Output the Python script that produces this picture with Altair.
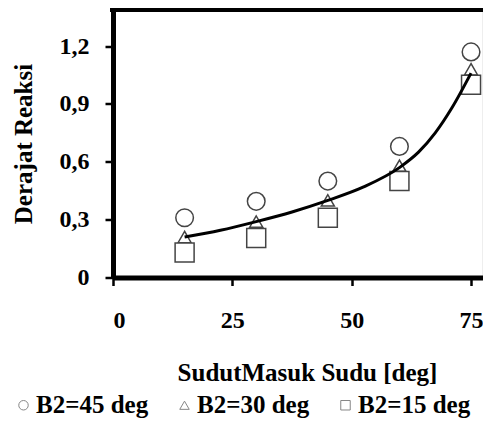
import altair as alt
import pandas as pd

# Data
x_vals = [15, 30, 45, 60, 75]
b2_45 = [0.31, 0.395, 0.50, 0.68, 1.17]
b2_30 = [0.21, 0.29, 0.40, 0.58, 1.08]
b2_15 = [0.13, 0.205, 0.31, 0.50, 1.00]
series_names = ["B2=45 deg", "B2=30 deg", "B2=15 deg"]
series_shapes = ["circle", "triangle-up", "square"]
series_sizes = [310, 170, 361]

trend_x = [15, 22.5, 30, 37.5, 45, 52.5, 60, 64, 67.5, 71, 75]
trend_y = [0.21, 0.245, 0.29, 0.34, 0.40, 0.47, 0.57, 0.65, 0.75, 0.88, 1.06]

x_ticks = [0, 25, 50, 75]
y_ticks = [0, 0.3, 0.6, 0.9, 1.2]

rows = []
for i, vals in enumerate([b2_45, b2_30, b2_15]):
    for xv, yv in zip(x_vals, vals):
        rows.append({"x": xv, "y": yv, "series": series_names[i],
                     "sz": series_sizes[i], "ord": i})
pts = pd.DataFrame(rows)
trend = pd.DataFrame({"x": trend_x, "y": trend_y})

FONT = "Liberation Serif"
W = 369.5
H = 268

xs = alt.Scale(domain=[0, 77.4], nice=False, zero=False)
ys = alt.Scale(domain=[0, 1.39], nice=False)
shape_scale = alt.Scale(domain=series_names, range=series_shapes)

x_axis = alt.Axis(
    values=x_ticks, title="SudutMasuk Sudu [deg]", grid=False,
    domainWidth=5, domainColor="black", tickColor="black", tickWidth=2.5, tickSize=8,
    labelFont=FONT, labelFontWeight="bold", labelFontSize=24, labelColor="black",
    labelPadding=23, labelBaseline="top",
    titleFont=FONT, titleFontWeight="bold", titleFontSize=25, titleColor="black",
    titleX=194, titleY=102.5, titleBaseline="alphabetic", titleAlign="center",
)
y_axis = alt.Axis(
    values=y_ticks, title="Derajat Reaksi", grid=False,
    domainWidth=5, domainColor="black", tickColor="black", tickWidth=2.5, tickSize=8,
    labelFont=FONT, labelFontWeight="bold", labelFontSize=24, labelColor="black",
    labelPadding=16,
    labelExpr="datum.value == 0 ? '0' : replace(format(datum.value, '.1f'), '.', ',')",
    titleFont=FONT, titleFontWeight="bold", titleFontSize=25, titleColor="black",
    titleX=-90, titleY=134, titleBaseline="middle", titleAlign="center", titleAngle=270,
)

legend = alt.Legend(
    orient="none", legendX=-102, legendY=383, direction="horizontal", title=None,
    labelFont=FONT, labelFontWeight="bold", labelFontSize=25, labelColor="black",
    symbolSize=90, symbolStrokeColor="#555", symbolStrokeWidth=1,
    columnPadding=23, labelOffset=0,
)

# small outline markers that carry the legend (hidden under the main markers)
legend_carrier = alt.Chart(pts).mark_point(
    filled=False, color="#555", size=90, strokeWidth=1
).encode(
    x=alt.X("x:Q", scale=xs, axis=x_axis),
    y=alt.Y("y:Q", scale=ys, axis=y_axis),
    shape=alt.Shape("series:N", scale=shape_scale, legend=legend),
)

points = alt.Chart(pts).mark_point(
    filled=False, color="#444", fill="white", fillOpacity=1, strokeWidth=1.5, opacity=1
).encode(
    x=alt.X("x:Q", scale=xs),
    y=alt.Y("y:Q", scale=ys),
    shape=alt.Shape("series:N", scale=shape_scale, legend=None),
    size=alt.Size("sz:Q", scale=None, legend=None),
    order=alt.Order("ord:Q"),
)

line = alt.Chart(trend).mark_line(color="black", strokeWidth=3, interpolate="monotone").encode(
    x=alt.X("x:Q", scale=xs),
    y=alt.Y("y:Q", scale=ys),
)

top_rule = alt.Chart(trend).mark_rule(color="black", strokeWidth=5).encode(
    x=alt.value(-2.5), x2=alt.value(W), y=alt.value(0)
)

chart = alt.layer(legend_carrier, points, line, top_rule).resolve_legend(
    shape="independent"
).properties(
    width=W, height=H,
    autosize=alt.AutoSizeParams(type="none"),
    padding={"left": 105, "top": 1.5, "right": 0, "bottom": 142.5},
).configure_view(stroke=None).configure(background="white")

chart.save("out.html", embed_options={"renderer": "svg", "actions": False})
